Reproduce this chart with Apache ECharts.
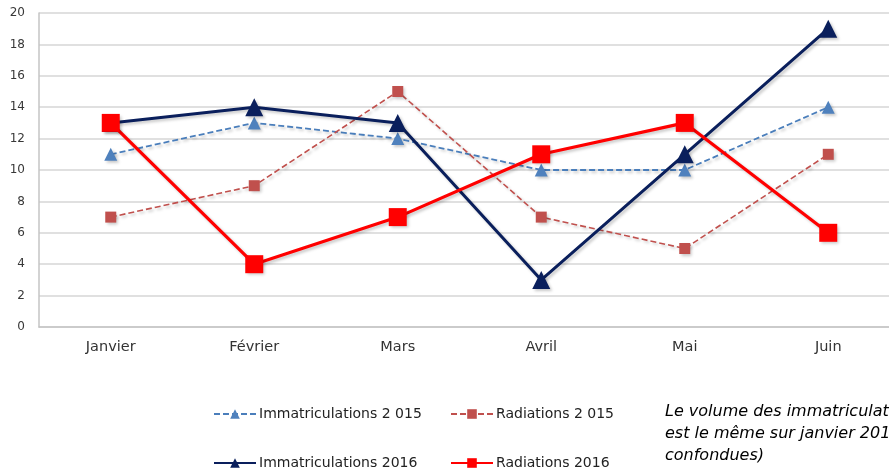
<!DOCTYPE html>
<html><head><meta charset="utf-8">
<script src="https://cdn.jsdelivr.net/npm/echarts@6/dist/echarts.min.js"></script>
<style>html,body{margin:0;padding:0;background:#fff;overflow:hidden}#c{width:900px;height:471px}</style>
</head><body><div id="c"></div>
<script>
const categories = ['Janvier','Février','Mars','Avril','Mai','Juin'];
const immat2015 = [11, 13, 12, 10, 10, 14];
const radia2015 = [7, 9, 15, 7, 5, 11];
const immat2016 = [13, 14, 13, 3, 11, 19];
const radia2016 = [13, 4, 7, 11, 13, 6];
const yTicks = {min: 0, max: 20, interval: 2};
const names = ['Immatriculations 2 015','Radiations 2 015','Immatriculations 2016','Radiations 2016'];
const note = ['Le volume des immatriculations', 'est le même sur janvier 2016 (courbes', 'confondues)'];

const chart = echarts.init(document.getElementById('c'), null, {width:900, height:471});
const shadow = {shadowColor:'rgba(0,0,0,0.22)', shadowBlur:3, shadowOffsetX:2, shadowOffsetY:2};
const FONT = '"DejaVu Sans", Verdana, sans-serif';
function mkLegend(name, left, top){
  return {data:[name], left:left, top:top, padding:0, itemWidth:42, itemHeight:12, itemGap:0,
    textStyle:{fontFamily:FONT, fontSize:14, color:'#222', padding:[0,0,0,-2]}};
}
chart.setOption({
  animation:false,
  grid:{left:39, top:13, width:861, height:314, containLabel:false},
  xAxis:{type:'category', data:categories, boundaryGap:true,
    axisLine:{lineStyle:{color:'#c4c4c4', width:1.5}}, axisTick:{show:false},
    axisLabel:{fontFamily:FONT, fontSize:14.5, color:'#333', margin:13}},
  yAxis:{type:'value', min:yTicks.min, max:yTicks.max, interval:yTicks.interval,
    axisLine:{show:true, lineStyle:{color:'#c4c4c4', width:1.5}},
    splitLine:{lineStyle:{color:'#d6d6d6', width:1.5}},
    axisLabel:{fontFamily:FONT, fontSize:12, color:'#383838', margin:14}},
  legend:[mkLegend(names[0],213,407), mkLegend(names[1],450,407), mkLegend(names[2],213,456), mkLegend(names[3],450,456)],
  series:[
    {name:names[0], type:'line', data:immat2015, symbol:'triangle', symbolSize:13,
      lineStyle:Object.assign({color:'#4a7ebb', width:1.8, type:[6,3]}, shadow), itemStyle:Object.assign({color:'#4f81bd'}, shadow), z:2},
    {name:names[1], type:'line', data:radia2015, symbol:'rect', symbolSize:11,
      lineStyle:Object.assign({color:'#c0504d', width:1.6, type:[6,3]}, shadow), itemStyle:Object.assign({color:'#c0504d'}, shadow), z:2},
    {name:names[2], type:'line', data:immat2016, symbol:'triangle', symbolSize:18,
      lineStyle:Object.assign({color:'#0a1f5c', width:3}, shadow), itemStyle:Object.assign({color:'#0a1f5c'}, shadow), z:3},
    {name:names[3], type:'line', data:radia2016, symbol:'rect', symbolSize:18,
      lineStyle:Object.assign({color:'#ff0000', width:3.2}, shadow), itemStyle:Object.assign({color:'#ff0000'}, shadow), z:4}
  ],
  graphic:note.map((t,i)=>({type:'text', x:665, y:412+i*22,
    style:{text:t, font:'italic 16px "DejaVu Sans", Verdana, sans-serif', fill:'#000', verticalAlign:'middle'}}))
});
</script></body></html>
